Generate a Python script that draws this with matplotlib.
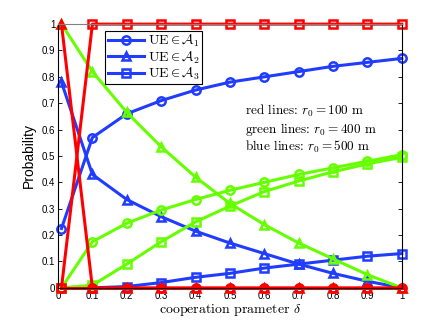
import matplotlib
matplotlib.use("Agg")
import matplotlib.pyplot as plt

plt.rcParams["mathtext.fontset"] = "cm"
plt.rcParams["font.family"] = ["Liberation Sans", "DejaVu Sans"]

delta = [0.01, 0.1, 0.2, 0.3, 0.4, 0.5, 0.6, 0.7, 0.8, 0.9, 1.0]

# r0 = 100 m (red)
red_a1 = [0, 0, 0, 0, 0, 0, 0, 0, 0, 0, 0]
red_a2 = [1.0, 0, 0, 0, 0, 0, 0, 0, 0, 0, 0]
red_a3 = [0, 1.0, 1.0, 1.0, 1.0, 1.0, 1.0, 1.0, 1.0, 1.0, 1.0]

# r0 = 400 m (green)
green_a1 = [0, 0.175, 0.245, 0.295, 0.335, 0.37, 0.40, 0.43, 0.455, 0.48, 0.505]
green_a2 = [1.0, 0.82, 0.665, 0.535, 0.42, 0.32, 0.24, 0.17, 0.11, 0.05, 0.0]
green_a3 = [0, 0.01, 0.09, 0.175, 0.25, 0.31, 0.365, 0.405, 0.44, 0.47, 0.495]

# r0 = 500 m (blue)
blue_a1 = [0.225, 0.57, 0.66, 0.71, 0.75, 0.78, 0.80, 0.82, 0.84, 0.855, 0.87]
blue_a2 = [0.78, 0.43, 0.335, 0.27, 0.215, 0.17, 0.13, 0.09, 0.055, 0.025, 0.0]
blue_a3 = [0, 0.0, 0.005, 0.02, 0.04, 0.055, 0.075, 0.09, 0.105, 0.12, 0.13]

BLUE = "#1f3cff"
GREEN = "#66ff00"
RED = "#ff0000"

fig = plt.figure(figsize=(4.43, 3.26), dpi=100)
ax = fig.add_axes([0.131, 0.117, 0.776, 0.809])

kw = dict(lw=2.2, ms=6, mew=1.8, mfc="none", clip_on=False)
l1, = ax.plot(delta, blue_a1, "-o", color=BLUE, **kw)
l2, = ax.plot(delta, blue_a2, "-^", color=BLUE, **kw)
l3, = ax.plot(delta, blue_a3, "-s", color=BLUE, **kw)
ax.plot(delta, green_a1, "-o", color=GREEN, **kw)
ax.plot(delta, green_a2, "-^", color=GREEN, **kw)
ax.plot(delta, green_a3, "-s", color=GREEN, **kw)
ax.plot(delta, red_a1, "-o", color=RED, **kw)
ax.plot(delta, red_a2, "-^", color=RED, **kw)
ax.plot(delta, red_a3, "-s", color=RED, **kw)

ax.set_xlim(0, 1)
ax.set_ylim(0, 1)
ticks = [0, 0.1, 0.2, 0.3, 0.4, 0.5, 0.6, 0.7, 0.8, 0.9, 1]
ticklabels = ["0", "0.1", "0.2", "0.3", "0.4", "0.5", "0.6", "0.7", "0.8", "0.9", "1"]
ax.set_xticks(ticks)
ax.set_xticklabels(ticklabels)
ax.set_yticks(ticks)
ax.set_yticklabels(ticklabels)
ax.tick_params(direction="in", length=3, width=0.6, labelsize=7, pad=2,
               top=False, right=True)
for s in ax.spines.values():
    s.set_linewidth(0.8)
ax.spines["top"].set_color("#808080")

ax.set_xlabel(r"cooperation prameter $\delta$", fontsize=10, family="cmr10", labelpad=1)
ax.set_ylabel("Probability", fontsize=10, labelpad=4)

leg = ax.legend([l1, l2, l3],
                [r"$\mathrm{UE} \in \mathcal{A}_1$", r"$\mathrm{UE} \in \mathcal{A}_2$",
                 r"$\mathrm{UE} \in \mathcal{A}_3$"],
                loc="upper left", bbox_to_anchor=(0.138, 0.975), fontsize=10,
                frameon=True, fancybox=False, edgecolor="black", framealpha=1,
                borderpad=0.15, labelspacing=0.0, handlelength=2.6, handletextpad=0.3,
                borderaxespad=0)
leg.get_frame().set_linewidth(0.8)

info = ("red lines: $r_0 = 100$ m\n"
        "green lines: $r_0 = 400$ m\n"
        "blue lines: $r_0 = 500$ m")
ax.text(0.545, 0.7, info, transform=ax.transAxes, fontsize=9.5, family="cmr10",
        va="top", ha="left", linespacing=1.1)

fig.savefig("out.png", dpi=100)
